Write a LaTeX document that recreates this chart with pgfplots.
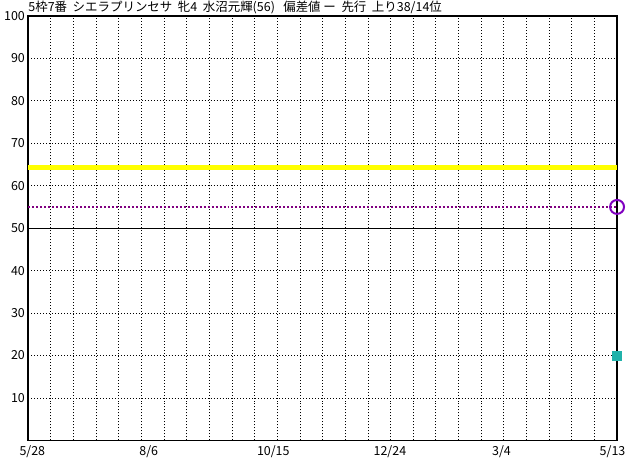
\documentclass[border=0pt]{standalone}
\usepackage{pgfplots}
\pgfplotsset{compat=1.18}
\usepackage{fontspec}
\setmainfont{Noto Sans CJK JP}
\definecolor{lineyellow}{RGB}{255,255,0}
\definecolor{dpurple}{RGB}{128,0,128}
\definecolor{cpurple}{RGB}{128,0,192}
\definecolor{teal2}{RGB}{32,178,170}
\begin{document}
\fontsize{12.5}{14}\selectfont
\begin{tikzpicture}[x=1pt,y=1pt]
\begin{axis}[
  at={(0,0)}, anchor=south west,
  scale only axis, width=591pt, height=426pt,
  xmin=0, xmax=26, ymin=0, ymax=100,
  clip=false,
  axis line style={line width=1.6pt},
  major tick length=0pt,
  xtick={1,...,25}, xticklabels={},
  extra x ticks={0.18,5.32,10.82,15.97,20.9,25.8},
  extra x tick labels={5/28,8/6,10/15,12/24,3/4,5/13},
  extra x tick style={grid=none, major tick length=0pt},
  ytick={10,20,...,100},
  extra y ticks={50},
  extra y tick labels={},
  extra y tick style={major grid style={solid, black, line width=0.9pt}},
  grid=major,
  major grid style={black, line width=0.8pt, dash pattern=on 1pt off 2pt},
  tick label style={font=\fontsize{12.5}{14}\selectfont},
  xticklabel style={yshift=-1pt},
  yticklabel style={xshift=1pt},
  /pgf/number format/assume math mode=true,
]
\addplot[lineyellow, line width=5pt] coordinates {(0,64.3) (26,64.3)};
\addplot[dpurple, line width=2pt, dash pattern=on 2pt off 2pt] coordinates {(0,55) (26,55)};
\addplot[only marks, mark=o, mark size=7pt, mark options={draw=cpurple, line width=2pt, solid}] coordinates {(26,55)};
\addplot[only marks, mark=square*, mark size=4.5pt, mark options={draw=teal2, fill=teal2}] coordinates {(26,20)};
\node[anchor=base west, inner sep=0pt] at (rel axis cs:0,1) [yshift=4pt] {5枠7番\ \ シエラプリンセサ\ \ 牝4\ \ 水沼元輝(56)\ \ \ 偏差値\ ー\ \ 先行\ \ 上り38/14位};
\end{axis}
\path (-26pt,-18pt) rectangle (606pt,442pt);
\end{tikzpicture}
\end{document}
